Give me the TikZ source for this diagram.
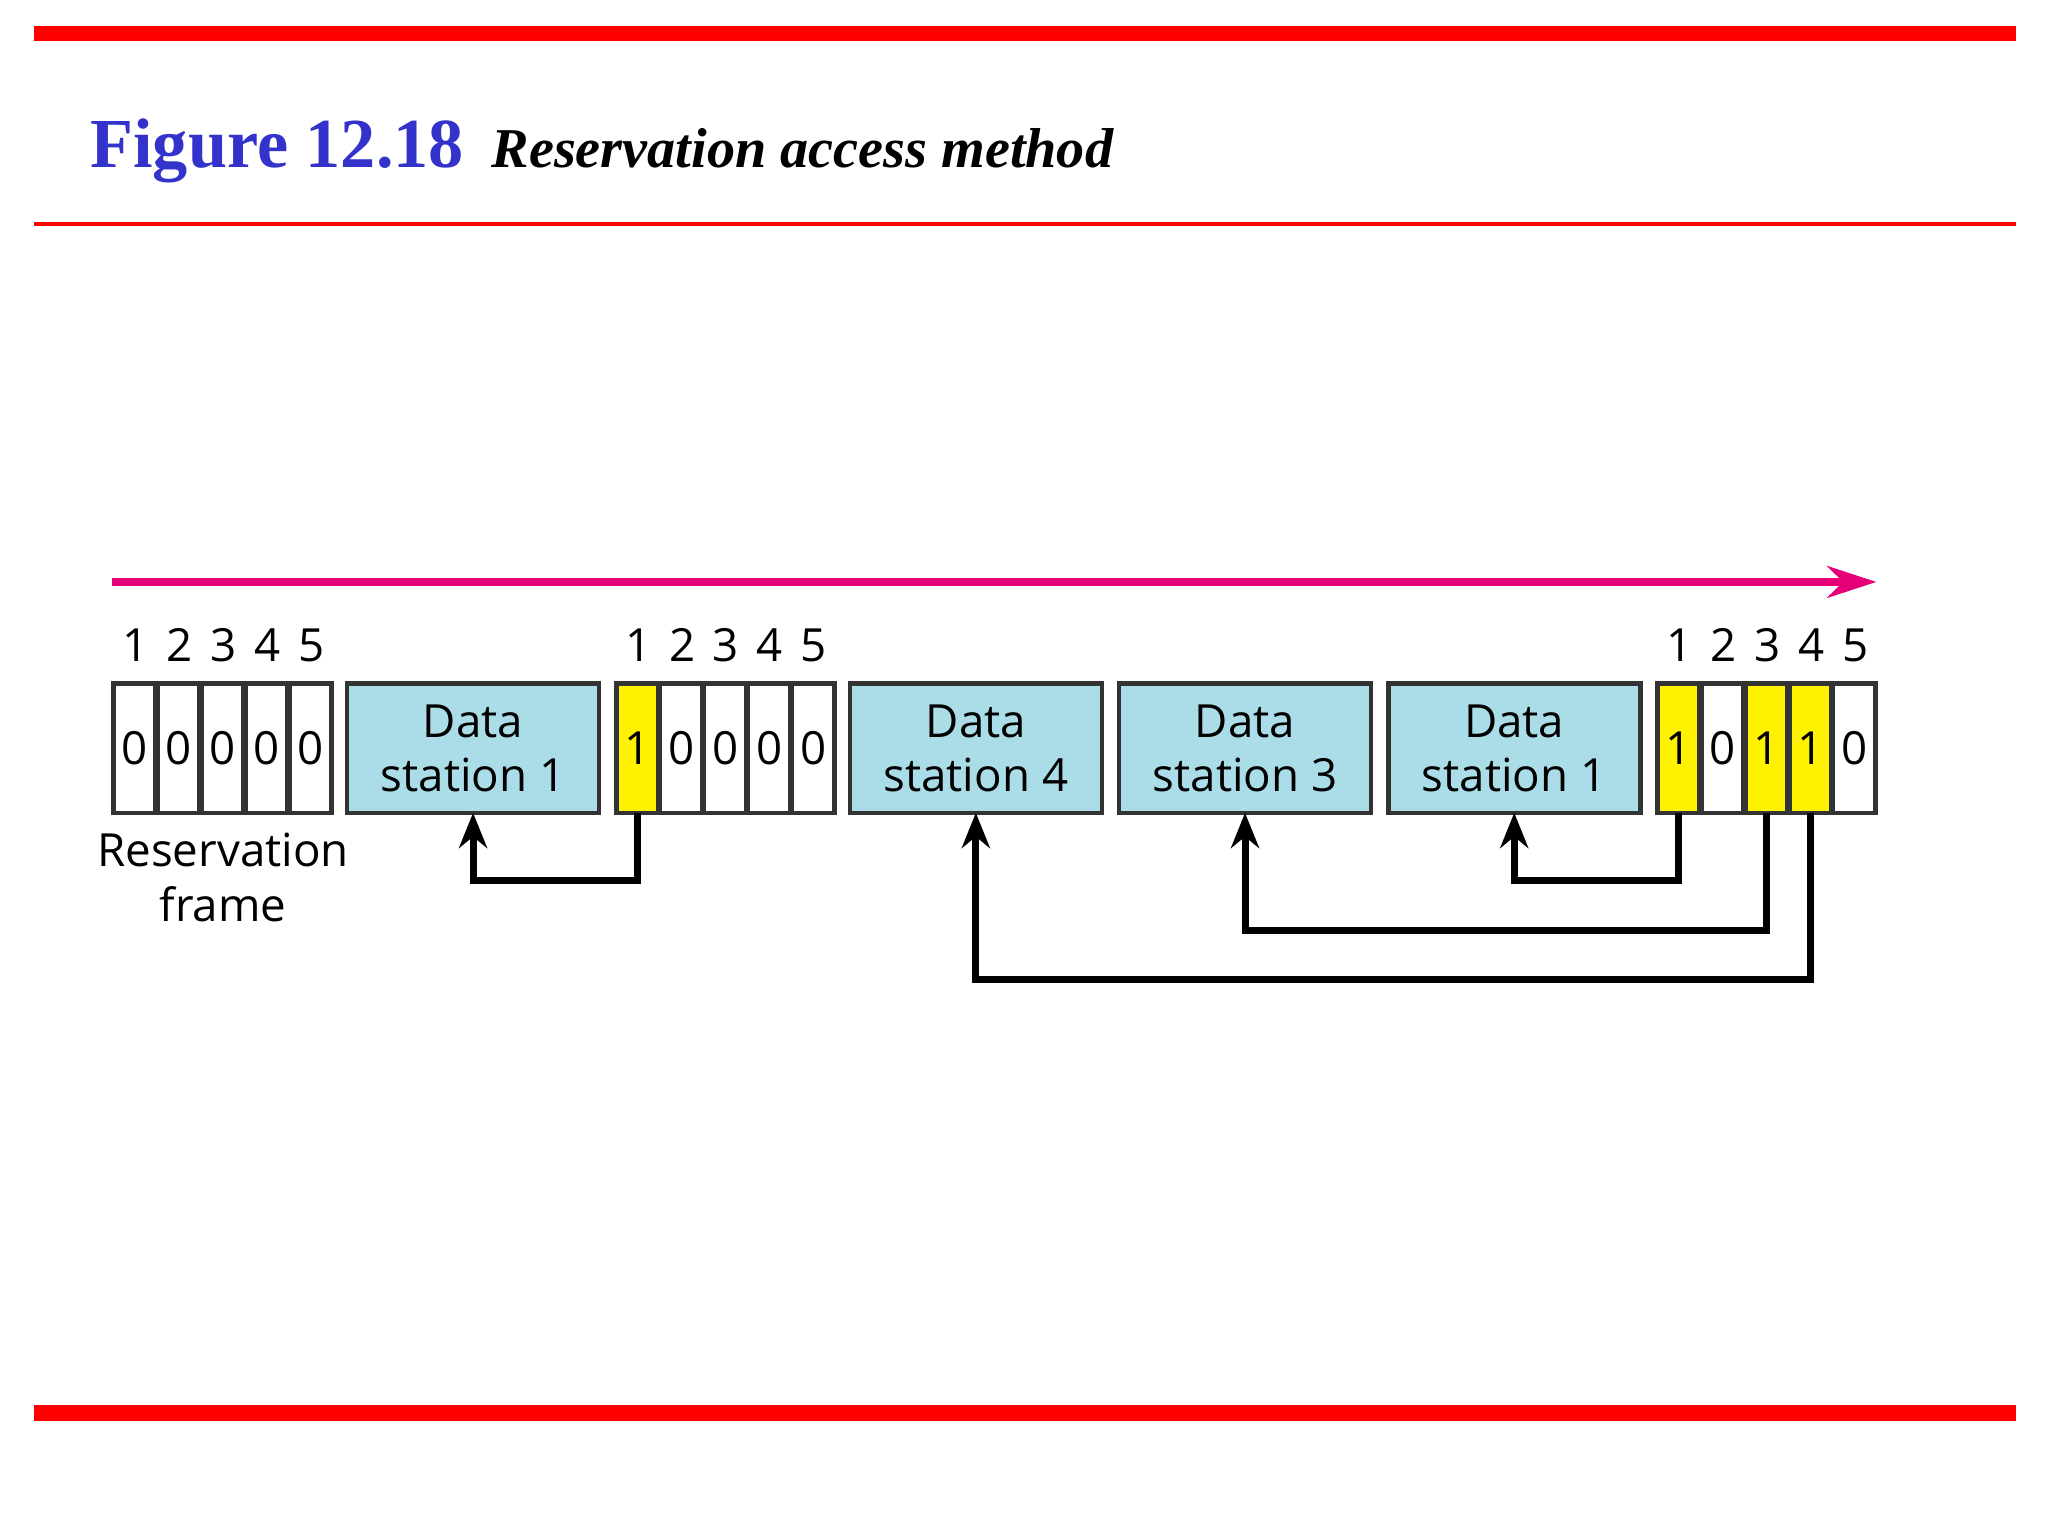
\documentclass[tikz,border=0pt]{standalone}
\usepackage{fontspec}
\setmainfont{Liberation Serif}
\newfontfamily\mysf{Open Sans}
\usetikzlibrary{arrows.meta}
\definecolor{cy}{RGB}{170,221,232}
\definecolor{mag}{RGB}{230,0,120}
\definecolor{tblue}{RGB}{51,51,204}
\tikzset{
 cell/.style={draw=black!80,line width=1.3pt,outer sep=0pt,minimum width=32*0.013196cm,minimum height=98*0.013196cm,inner sep=0pt,font=\mysf\fontsize{13}{13}\selectfont,anchor=north west},
 ycell/.style={cell,fill=yellow},
 dbox/.style={draw=black!80,line width=1.3pt,outer sep=0pt,fill=cy,minimum width=191*0.013196cm,minimum height=98*0.013196cm,inner sep=0pt,align=center,font=\mysf\fontsize{13}{15.5}\selectfont,anchor=north west},
 num/.style={font=\mysf\fontsize{13}{13}\selectfont,inner sep=0pt},
 link/.style={line width=2pt,-{Stealth[length=10pt,width=8pt]}}
}
\begin{document}
\begin{tikzpicture}[x=0.013196cm,y=-0.013196cm]
\useasboundingbox (0,0) rectangle (1552,1164);
\fill[red] (26,20) rectangle (1528,31);
\fill[red] (26,168) rectangle (1528,171);
\fill[red] (26,1065) rectangle (1528,1077);
\node[anchor=base west,inner sep=0pt,text=tblue,font=\bfseries\fontsize{20}{20}\selectfont] (t1) at (68,127) {Figure 12.18};
\node[anchor=base west,inner sep=0pt,font=\bfseries\itshape\fontsize{16}{16}\selectfont] (t2) at (372,127) {Reservation access method};
\coordinate (as) at (85,441); \coordinate (ae) at (1422,441);
\draw[mag,line width=2.5pt,-{Stealth[length=14pt,width=9pt]}] (as) -- (ae);
\foreach \i/\x in {1/86,2/119.3,3/152.6,4/185.9,5/219.2}{
 \node[cell] (a\i) at (\x,518) {0};
 \node[num] (na\i) at (\x+16.6,489) {\i};}
\node[dbox] (d1) at (263,518) {Data\\station 1};
\foreach \i/\x/\v/\s in {1/467/1/ycell,2/500.3/0/cell,3/533.6/0/cell,4/566.9/0/cell,5/600.2/0/cell}{
 \node[\s] (b\i) at (\x,518) {\v};
 \node[num] (nb\i) at (\x+16.6,489) {\i};}
\node[dbox] (d4) at (644,518) {Data\\station 4};
\node[dbox] (d3) at (848,518) {Data\\station 3};
\node[dbox] (d1b) at (1052,518) {Data\\station 1};
\foreach \i/\x/\v/\s in {1/1256/1/ycell,2/1289.3/0/cell,3/1322.6/1/ycell,4/1355.9/1/ycell,5/1389.2/0/cell}{
 \node[\s] (c\i) at (\x,518) {\v};
 \node[num] (nc\i) at (\x+16.6,489) {\i};}
\node[align=center,font=\mysf\fontsize{13}{15.5}\selectfont,inner sep=0pt] (rf) at (169,665) {Reservation\\frame};
\draw[link] (b1.south) |- (d1.south |- 0,667) -- (d1.south);
\draw[link] (c1.south) |- (d1b.south |- 0,667) -- (d1b.south);
\draw[link] (c3.south) |- (d3.south |- 0,705) -- (d3.south);
\draw[link] (c4.south) |- (d4.south |- 0,742) -- (d4.south);
\end{tikzpicture}
\end{document}
